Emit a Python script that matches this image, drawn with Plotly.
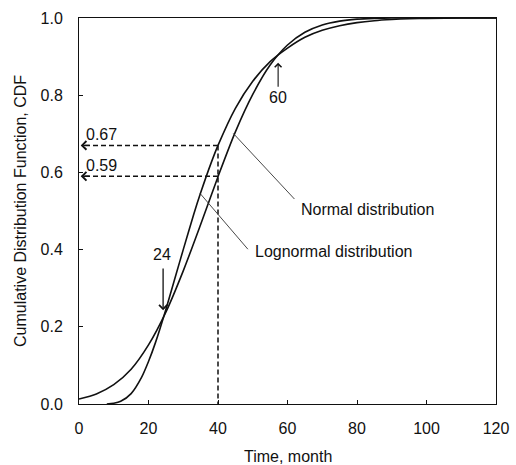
import plotly.graph_objects as go

# Data
normal_x = [0, 5, 10, 15, 20, 25, 30, 35, 40, 45, 50, 55, 60, 65, 70, 75, 80, 85, 90, 100, 110, 120]
normal_y = [0.013, 0.026, 0.050, 0.090, 0.153, 0.238, 0.345, 0.465, 0.589, 0.705, 0.802, 0.878,
            0.930, 0.963, 0.982, 0.992, 0.997, 0.999, 1.0, 1.0, 1.0, 1.0]

logn_x = [8, 10, 12, 15, 18, 20, 22, 25, 28, 30, 33, 35, 38, 40, 45, 50, 55, 60, 65, 70, 75,
          80, 85, 90, 95, 100, 110, 120]
logn_y = [0.0, 0.002, 0.007, 0.027, 0.069, 0.110, 0.159, 0.245, 0.338, 0.400, 0.491, 0.547,
          0.624, 0.670, 0.766, 0.836, 0.887, 0.922, 0.950, 0.968, 0.980, 0.988, 0.993, 0.996,
          0.998, 0.999, 1.0, 1.0]

x_ticks = [0, 20, 40, 60, 80, 100, 120]
y_ticks = [0.0, 0.2, 0.4, 0.6, 0.8, 1.0]

ref_time = 40
ref_cdf = [0.67, 0.59]
ref_labels = ["0.67", "0.59"]
cross_points = [24, 60]
curve_labels = ["Normal distribution", "Lognormal distribution"]

FONT = "Arial, Liberation Sans, sans-serif"
BLACK = "#111111"
FS = 16

fig = go.Figure()
fig.add_trace(go.Scatter(x=normal_x, y=normal_y, mode="lines", name=curve_labels[0],
                         line=dict(color=BLACK, width=1.6, shape="spline", smoothing=0.8),
                         showlegend=False))
fig.add_trace(go.Scatter(x=logn_x, y=logn_y, mode="lines", name=curve_labels[1],
                         line=dict(color=BLACK, width=1.6, shape="spline", smoothing=0.8),
                         showlegend=False))

dash = "5px,3px"
for v in ref_cdf:
    fig.add_shape(type="line", x0=ref_time, x1=0.8, y0=v, y1=v,
                  line=dict(color=BLACK, width=1.5, dash=dash))
fig.add_shape(type="line", x0=ref_time, x1=ref_time, y0=ref_cdf[0], y1=0,
              line=dict(color=BLACK, width=1.5, dash=dash))

ann = []
for v, lab in zip(ref_cdf, ref_labels):
    ann.append(dict(x=0.5, y=v, ax=3.5, ay=v, xref="x", yref="y", axref="x", ayref="y",
                    showarrow=True, arrowhead=4, arrowsize=1.2, arrowwidth=1.4,
                    arrowcolor=BLACK, text=""))
    ann.append(dict(x=1.5, y=v + 0.028, xref="x", yref="y", text=lab, showarrow=False,
                    xanchor="left", yanchor="middle", font=dict(size=FS, color=BLACK, family=FONT)))

# "24" arrow (down)
ann.append(dict(x=24.2, y=0.243, ax=24.2, ay=0.355, xref="x", yref="y", axref="x", ayref="y",
                showarrow=True, arrowhead=4, arrowsize=1.2, arrowwidth=1.3, arrowcolor=BLACK, text=""))
ann.append(dict(x=24.0, y=0.388, xref="x", yref="y", text=str(cross_points[0]), showarrow=False,
                font=dict(size=FS, color=BLACK, family=FONT)))
# "60" arrow (up)
ann.append(dict(x=57.3, y=0.884, ax=57.3, ay=0.818, xref="x", yref="y", axref="x", ayref="y",
                showarrow=True, arrowhead=4, arrowsize=1.2, arrowwidth=1.1, arrowcolor=BLACK, text=""))
ann.append(dict(x=57.4, y=0.793, xref="x", yref="y", text=str(cross_points[1]), showarrow=False,
                font=dict(size=FS, color=BLACK, family=FONT)))

# leader lines for curve labels
fig.add_shape(type="line", x0=44.4, y0=0.701, x1=62.0, y1=0.531,
              line=dict(color="#333333", width=0.9))
fig.add_shape(type="line", x0=34.8, y0=0.546, x1=48.6, y1=0.401,
              line=dict(color="#333333", width=0.9))
ann.append(dict(x=63.4, y=0.505, xref="x", yref="y", text=curve_labels[0], showarrow=False,
                xanchor="left", yanchor="middle", font=dict(size=FS, color=BLACK, family=FONT)))
ann.append(dict(x=50.0, y=0.394, xref="x", yref="y", text=curve_labels[1], showarrow=False,
                xanchor="left", yanchor="middle", font=dict(size=FS, color=BLACK, family=FONT)))

# axis titles
ann.append(dict(x=0.501, y=-0.108, xref="paper", yref="paper", text="Time, month", showarrow=False,
                xanchor="center", yanchor="top", font=dict(size=FS, color=BLACK, family=FONT)))
ann.append(dict(x=-0.1415, y=0.5, xref="paper", yref="paper",
                text="Cumulative Distribution Function, CDF", showarrow=False, textangle=-90,
                xanchor="center", yanchor="middle", font=dict(size=FS, color=BLACK, family=FONT)))

axis_common = dict(showline=True, linecolor=BLACK, linewidth=1, mirror=True, automargin=False,
                   ticks="inside", ticklen=4, tickcolor=BLACK, showgrid=False, zeroline=False,
                   tickfont=dict(size=FS, color=BLACK, family=FONT))

fig.update_layout(
    width=516, height=465,
    margin=dict(l=79, r=20, t=18, b=61),
    paper_bgcolor="white", plot_bgcolor="white",
    font=dict(family=FONT, color=BLACK, size=FS),
    xaxis=dict(range=[0, 120], tickvals=x_ticks, ticklabelstandoff=10, **axis_common),
    yaxis=dict(range=[0, 1.0], tickvals=y_ticks, tickformat=".1f", ticklabelstandoff=12,
               **axis_common),
    annotations=ann,
)

fig.write_html("out.html")
